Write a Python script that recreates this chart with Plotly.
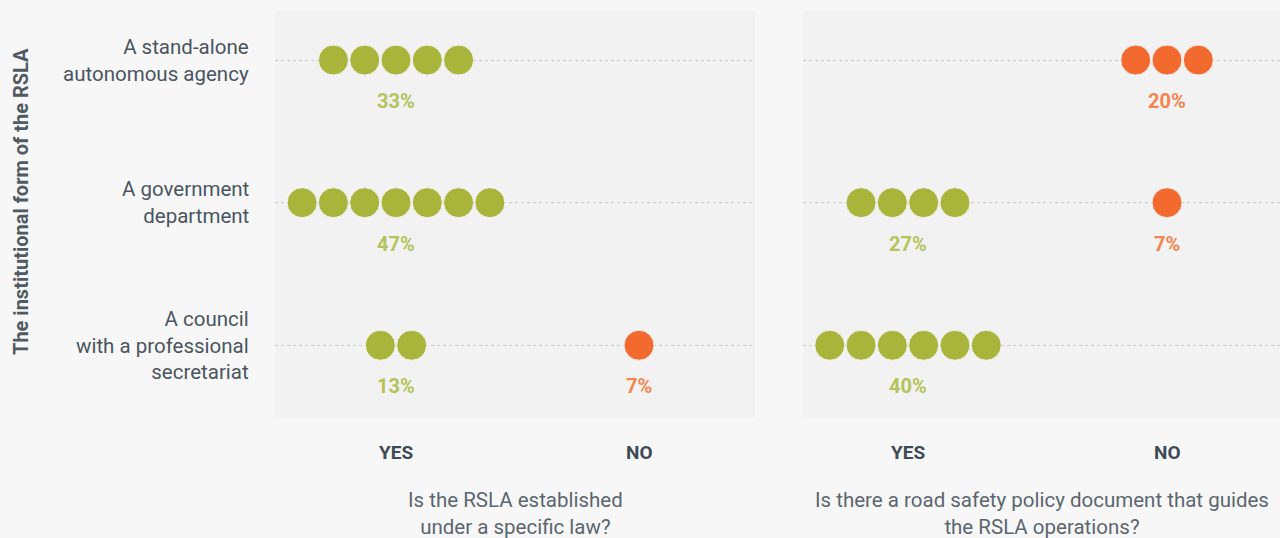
import plotly.graph_objects as go

# Survey responses: share of agencies (out of 15) per institutional form
forms = ["A stand-alone<br>autonomous agency",
         "A government<br>department",
         "A council<br>with a professional<br>secretariat"]
answers = ["YES", "NO"]
respondents = 15

law_yes = [33, 47, 13]
law_no = [0, 0, 7]
policy_yes = [0, 27, 40]
policy_no = [20, 7, 0]

questions = ["Is the RSLA established<br>under a specific law?",
             "Is there a road safety policy document that guides<br>the RSLA operations?"]
y_title = "The institutional form of the RSLA"

GREEN = "#a8b53a"
ORANGE = "#f26a2d"
GREEN_TXT = "#b4c35a"
ORANGE_TXT = "#f5854f"
TEXT = "#4a5560"
DARK = "#3e4a55"
FONT = "Roboto"

W, H = 1280, 538
# panel extents in pixels -> paper domains
panels = [
    dict(x0=275, x1=755, yes_px=396, no_px=639, data=(law_yes, law_no), q=questions[0]),
    dict(x0=803, x1=1280, yes_px=908, no_px=1167, data=(policy_yes, policy_no), q=questions[1]),
]
top_px, bot_px = 11, 418
dot_px = 31.3

fig = go.Figure()
annotations = []

for p_i, p in enumerate(panels):
    suffix = "" if p_i == 0 else str(p_i + 1)
    xa = "x" + suffix
    ya = "y" + suffix
    unit = p["no_px"] - p["yes_px"]
    xr = [-(p["yes_px"] - p["x0"]) / unit, 1 + (p["x1"] - p["no_px"]) / unit]
    step = dot_px / unit

    for a_i, (vals, color, tcolor) in enumerate(zip(p["data"], (GREEN, ORANGE), (GREEN_TXT, ORANGE_TXT))):
        xs, ys = [], []
        for r_i, pct in enumerate(vals):
            n = round(pct / 100 * respondents)
            for k in range(n):
                xs.append(a_i + (k - (n - 1) / 2) * step)
                ys.append(r_i)
            if n > 0:
                annotations.append(dict(
                    x=a_i, y=r_i, xref=xa, yref=ya, yshift=-41,
                    xanchor="center", yanchor="middle",
                    text=f"<b>{pct}%</b>", showarrow=False,
                    font=dict(family=FONT, size=20, color=tcolor)))
        fig.add_trace(go.Scatter(
            x=xs, y=ys, xaxis=xa, yaxis=ya, mode="markers",
            marker=dict(size=30, color=color, line=dict(width=1, color="#f2f2f2")),
            hoverinfo="skip", showlegend=False))

    for a_i, lab in enumerate(answers):
        annotations.append(dict(
            x=a_i, y=1 - 452 / H, xref=xa, yref="paper",
            text=f"<b>{lab}</b>", showarrow=False, xanchor="center", yanchor="middle",
            font=dict(family=FONT, size=19, color=DARK)))

    annotations.append(dict(
        x=(p["x0"] + p["x1"]) / 2 / W, y=1 - 513 / H, xref="paper", yref="paper",
        text=p["q"], showarrow=False, xanchor="center", yanchor="middle", align="center",
        font=dict(family=FONT, size=20.5, color="#5b6670")))

    fig.update_layout(**{
        "xaxis" + suffix: dict(domain=[p["x0"] / W, p["x1"] / W], range=xr,
                               showticklabels=False, showgrid=False, zeroline=False,
                               showline=False, anchor=ya, fixedrange=True),
        "yaxis" + suffix: dict(domain=[1 - bot_px / H, 1 - top_px / H],
                               range=[2.51, -0.344], tickvals=[0, 1, 2],
                               showticklabels=False, showgrid=True, gridcolor="#c9c9c9",
                               griddash="dot", gridwidth=1, zeroline=False,
                               showline=False, anchor=xa, fixedrange=True),
    })

for r_i, lab in enumerate(forms):
    annotations.append(dict(
        x=251 / W, y=r_i, xref="paper", yref="y", xanchor="right", yanchor="middle",
        text=lab, showarrow=False, align="right",
        font=dict(family=FONT, size=20.5, color=TEXT)))

annotations.append(dict(
    x=21 / W, y=1 - 202 / H, xref="paper", yref="paper", textangle=-90,
    text=f"<b>{y_title}</b>", showarrow=False, xanchor="center", yanchor="middle",
    font=dict(family=FONT, size=20, color="#4f5a63")))

fig.update_layout(
    width=W, height=H,
    margin=dict(l=0, r=0, t=0, b=0),
    paper_bgcolor="#f7f7f7",
    plot_bgcolor="#f2f2f2",
    annotations=annotations,
    showlegend=False,
)

fig.write_html("out.html", config={"displayModeBar": False})
